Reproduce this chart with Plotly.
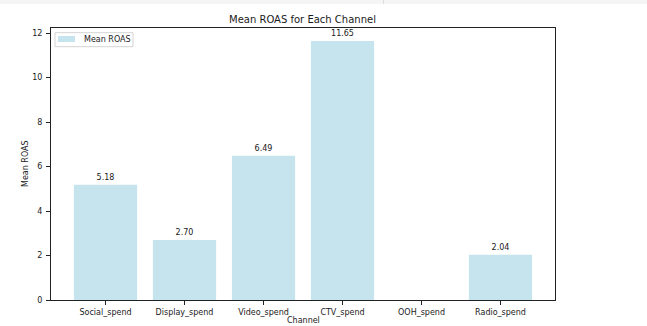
import plotly.graph_objects as go

# Mean return on ad spend per marketing channel
channels = ["Social_spend", "Display_spend", "Video_spend", "CTV_spend", "OOH_spend", "Radio_spend"]
mean_roas = [5.18, 2.70, 6.49, 11.65, None, 2.04]
y_ticks = [0, 2, 4, 6, 8, 10, 12]
series_name = "Mean ROAS"

bar_color = "rgba(173,216,230,0.7)"
text_color = "#1a1a1a"
font_family = "DejaVu Sans"

W, H = 647, 326
L, R, T, B = 51, 92, 28, 26
pw, ph = W - L - R, H - T - B


def px_x(px):
    return (px - L) / pw


def px_y(py):
    return (H - B - py) / ph


labels = ["" if v is None else f"{v:.2f}" for v in mean_roas]

fig = go.Figure()
fig.add_trace(go.Bar(
    x=channels,
    y=mean_roas,
    name=series_name,
    marker=dict(color=bar_color, line=dict(width=0)),
    text=labels,
    textposition="outside",
    textfont=dict(size=8, color=text_color, family=font_family),
    cliponaxis=False,
    showlegend=False,
))

fig.update_layout(
    width=W,
    height=H,
    margin=dict(l=L, r=R, t=T, b=B),
    paper_bgcolor="white",
    plot_bgcolor="white",
    font=dict(family=font_family, size=8, color=text_color),
    bargap=0.2,
    title=dict(
        text="Mean ROAS for Each Channel",
        x=302.5 / W,
        xanchor="center",
        y=1 - 19 / H,
        yanchor="middle",
        font=dict(size=10, color=text_color, family=font_family),
    ),
)

axis_common = dict(
    showline=True, mirror=True, linecolor="#222", linewidth=1,
    ticks="outside", ticklen=4, tickcolor="#222", tickwidth=1,
    showgrid=False, zeroline=False, automargin=False,
    tickfont=dict(size=8, color=text_color),
)
fig.update_xaxes(type="category", range=[-0.69, 5.69], **axis_common)
fig.update_yaxes(range=[0, 12.23], tickvals=y_ticks, ticklabelstandoff=2, **axis_common)

# axis titles
fig.add_annotation(text="Channel", xref="paper", yref="paper",
                   x=px_x(303), y=px_y(320.5), showarrow=False,
                   xanchor="center", yanchor="middle", font=dict(size=8))
fig.add_annotation(text="Mean ROAS", xref="paper", yref="paper",
                   x=px_x(25), y=px_y(164), showarrow=False, textangle=-90,
                   xanchor="center", yanchor="middle", font=dict(size=8))

# legend box in the upper-left corner
fig.add_shape(type="rect", xref="paper", yref="paper",
              x0=px_x(55), x1=px_x(133), y0=px_y(46.7), y1=px_y(32.7),
              fillcolor="rgba(255,255,255,0.8)", line=dict(color="#d4d4d4", width=1))
fig.add_shape(type="rect", xref="paper", yref="paper",
              x0=px_x(58), x1=px_x(75), y0=px_y(42), y1=px_y(36),
              fillcolor=bar_color, line=dict(width=0))
fig.add_annotation(text=series_name, xref="paper", yref="paper",
                   x=px_x(81.5), y=px_y(39.5), showarrow=False,
                   xanchor="left", yanchor="middle", font=dict(size=8))

# notebook toolbar strip along the top edge
fig.add_shape(type="rect", xref="paper", yref="paper",
              x0=px_x(0), x1=px_x(W), y0=px_y(4), y1=px_y(0),
              fillcolor="#f5f5f5", line=dict(width=0), layer="above")
fig.add_shape(type="line", xref="paper", yref="paper",
              x0=px_x(383.5), x1=px_x(383.5), y0=px_y(4), y1=px_y(0),
              line=dict(color="#dcdcdc", width=1), layer="above")

fig.write_html("out.html")
